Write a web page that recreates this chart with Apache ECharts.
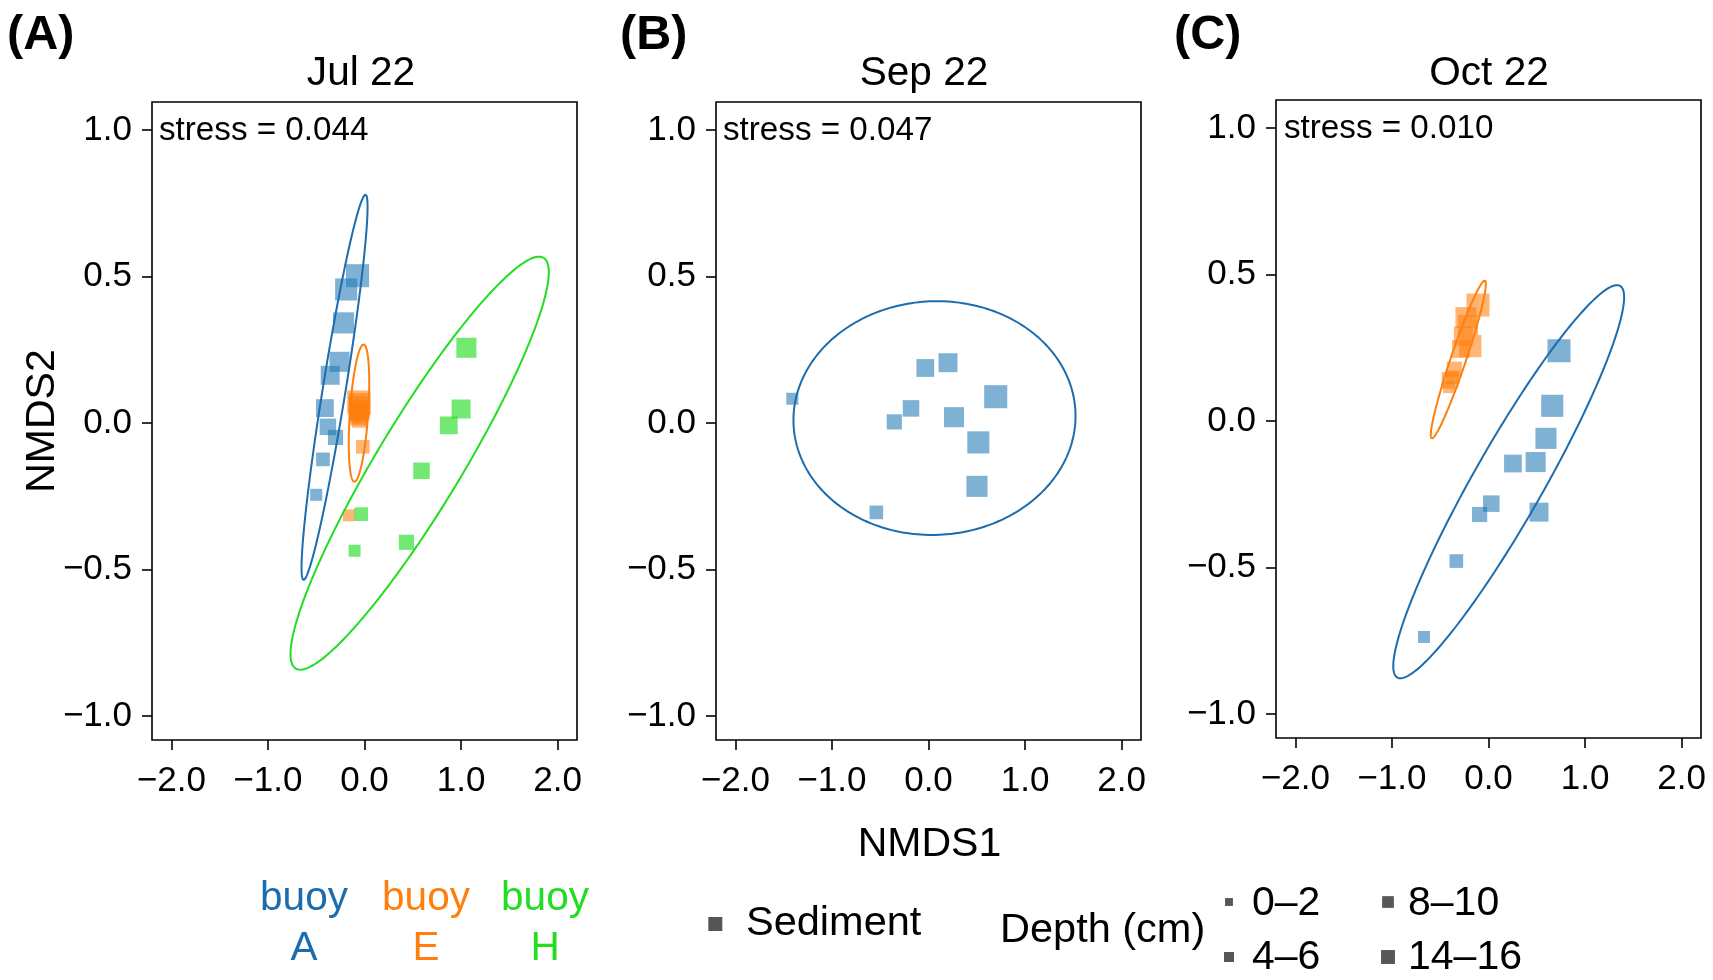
<!DOCTYPE html>
<html>
<head>
<meta charset="utf-8">
<script src="https://cdn.jsdelivr.net/npm/echarts@6/dist/echarts.min.js"></script>
<style>
html,body{margin:0;padding:0;background:#fff;}
#chart{width:1713px;height:980px;}
</style>
</head>
<body>
<div id="chart"></div>
<script>
// ---------- data ----------
const panelTitles = ['Jul 22', 'Sep 22', 'Oct 22'];
const panelLetters = ['(A)', '(B)', '(C)'];
const stressValues = ['0.044', '0.047', '0.010'];
const xTicks = [-2, -1, 0, 1, 2];
const yTicks = [-1, -0.5, 0, 0.5, 1];
const buoyNames = ['A', 'E', 'H'];
const depthLabels = ['0–2', '2–4', '4–6', '6–8', '8–10', '10–12', '12–14', '14–16', '16–18', '18–20'];
const legendDepthIdx = [0, 2, 4, 7];

// points: [NMDS1, NMDS2, depth layer index]
const julBuoyA = [[-0.50,-0.245,0],[-0.43,-0.124,1],[-0.30,-0.049,2],[-0.379,-0.013,3],[-0.41,0.051,4],[-0.355,0.163,5],[-0.259,0.209,6],[-0.217,0.342,7],[-0.19,0.456,8],[-0.072,0.503,9]];
const julBuoyE = [[-0.161,-0.315,0],[-0.017,-0.081,1],[-0.05,0.01,2],[-0.06,0.02,3],[-0.055,0.03,4],[-0.06,0.04,5],[-0.05,0.045,6],[-0.055,0.055,7],[-0.05,0.065,8],[-0.06,0.072,9]];
const julBuoyH = [[-0.103,-0.436,0],[-0.034,-0.311,1],[0.434,-0.407,2],[0.59,-0.163,3],[0.873,-0.008,4],[1.0,0.048,5],[1.055,0.257,6]];
const sepBuoyA = [[-1.41,0.083,0],[-0.54,-0.305,1],[-0.354,0.004,2],[-0.181,0.05,3],[-0.033,0.188,4],[0.202,0.206,5],[0.264,0.020,6],[0.502,-0.216,7],[0.516,-0.066,8],[0.696,0.090,9]];
const octBuoyA = [[-0.668,-0.737,0],[-0.333,-0.478,1],[-0.092,-0.319,2],[0.029,-0.282,3],[0.253,-0.145,4],[0.523,-0.311,5],[0.488,-0.140,6],[0.595,-0.059,7],[0.660,0.052,8],[0.73,0.240,9]];
const octBuoyE = [[-0.409,0.116,0],[-0.37,0.15,1],[-0.354,0.177,2],[-0.399,0.139,3],[-0.285,0.246,4],[-0.26,0.29,5],[-0.212,0.328,6],[-0.233,0.353,7],[-0.188,0.256,8],[-0.109,0.396,9]];

// ellipses: [centre x, centre y, half-axis dx, half-axis dy, horizontal half-chord]
const julEllA = [-0.31, 0.122, 0.32, 0.657, 0.12];
const julEllE = [-0.057, 0.034, 0.047, 0.234, 0.095];
const julEllH = [0.571, -0.137, 1.236, 0.705, 0.51];
const sepEllA = [0.062, 0.017, 0.026, 0.399, 1.46];
const octEllA = [0.209, -0.207, 1.121, 0.671, 0.414];
const octEllE = [-0.3125, 0.21, 0.2725, 0.269, 0.083];

// ---------- styles ----------
const FF = '"Liberation Sans", Arial, sans-serif';
const LINE = {A: '#1c6cae', E: '#ff7f0e', H: '#22dd22'};
const FILL = {A: 'rgba(31,119,180,0.72)', E: 'rgba(255,127,14,0.72)', H: 'rgba(34,221,34,0.8)'};
const sizeOf = d => Math.sqrt(144 + 43 * d);

const grids = [
  {left: 152, top: 102, width: 425, height: 638},
  {left: 716, top: 102, width: 425, height: 638},
  {left: 1276, top: 100, width: 425, height: 638}
];
const fmt = v => (v < 0 ? '\u2212' : '') + Math.abs(v).toFixed(1);

const xAxes = grids.map((g, i) => ({
  type: 'value', gridIndex: i, min: -2.2, max: 2.2, position: 'bottom',
  axisLine: {show: false, onZero: false}, splitLine: {show: false},
  axisTick: {show: true, inside: false, length: 10, customValues: xTicks, lineStyle: {color: '#000', width: 1.6}},
  axisLabel: {customValues: xTicks, margin: 23.5, color: '#000', fontSize: 35, fontFamily: FF, formatter: fmt}
}));
const yAxes = grids.map((g, i) => ({
  type: 'value', gridIndex: i, min: -1.082, max: 1.096, position: 'left',
  axisLine: {show: false, onZero: false}, splitLine: {show: false},
  axisTick: {show: true, inside: false, length: 10, customValues: yTicks, lineStyle: {color: '#000', width: 1.6}},
  axisLabel: {customValues: yTicks, margin: 20, color: '#000', fontSize: 35, fontFamily: FF, formatter: fmt}
}));

function scatter(idx, pts, buoy) {
  return {
    type: 'scatter', xAxisIndex: idx, yAxisIndex: idx, symbol: 'rect', silent: true, z: 2,
    symbolSize: v => sizeOf(v[2]),
    itemStyle: {color: FILL[buoy], borderWidth: 0},
    data: pts
  };
}
function ellipse(idx, ell, buoy) {
  return {
    type: 'custom', xAxisIndex: idx, yAxisIndex: idx, silent: true, z: 3,
    encode: {x: 0, y: 1},
    data: [ell],
    renderItem: function (params, api) {
      const cx = api.value(0), cy = api.value(1), ax = api.value(2), ay = api.value(3), bx = api.value(4);
      const pts = [];
      const N = 240;
      for (let k = 0; k < N; k++) {
        const t = 2 * Math.PI * k / N;
        pts.push(api.coord([cx + ax * Math.cos(t) + bx * Math.sin(t), cy + ay * Math.cos(t)]));
      }
      return {type: 'polygon', shape: {points: pts}, style: {fill: 'none', stroke: LINE[buoy], lineWidth: 2}};
    }
  };
}

const series = [
  scatter(0, julBuoyA, 'A'), scatter(0, julBuoyE, 'E'), scatter(0, julBuoyH, 'H'),
  ellipse(0, julEllA, 'A'), ellipse(0, julEllE, 'E'), ellipse(0, julEllH, 'H'),
  scatter(1, sepBuoyA, 'A'), ellipse(1, sepEllA, 'A'),
  scatter(2, octBuoyA, 'A'), scatter(2, octBuoyE, 'E'),
  ellipse(2, octEllA, 'A'), ellipse(2, octEllE, 'E')
];

// ---------- texts ----------
function txt(x, y, text, size, o) {
  o = o || {};
  return {
    type: 'text', x: x, y: y, rotation: o.rot || 0, silent: true,
    style: {
      text: text, fill: o.color || '#000',
      font: (o.bold ? 'bold ' : '') + size + 'px ' + FF,
      align: o.align || 'left', verticalAlign: 'middle',
      textAlign: o.align || 'left', textVerticalAlign: 'middle'
    }
  };
}
const letterX = [7, 620, 1174];
const titleX = [361, 924, 1489];
const stressX = [159, 723, 1284];
const stressY = [130.5, 130.5, 129];
const graphics = [];
for (let i = 0; i < 3; i++) {
  graphics.push(txt(letterX[i], 36, panelLetters[i], 48.5, {bold: true}));
  graphics.push(txt(titleX[i], 74, panelTitles[i], 40.6, {align: 'center'}));
  graphics.push(txt(stressX[i], stressY[i], 'stress = ' + stressValues[i], 33.2));
}
graphics.push(txt(42.5, 421, 'NMDS2', 41, {align: 'center', rot: Math.PI / 2}));
graphics.push(txt(929.5, 845, 'NMDS1', 41, {align: 'center'}));

const buoyX = [304, 426, 545];
buoyNames.forEach((b, i) => {
  graphics.push(txt(buoyX[i], 899, 'buoy', 40.5, {align: 'center', color: LINE[b]}));
  graphics.push(txt(buoyX[i], 949, b, 40.5, {align: 'center', color: LINE[b]}));
});
graphics.push({type: 'rect', silent: true, shape: {x: 715.3 - 7, y: 924 - 7, width: 14, height: 14}, style: {fill: '#555'}});
graphics.push(txt(746, 923.5, 'Sediment', 41.5));
graphics.push(txt(1000, 931, 'Depth (cm)', 41.5));
const legCol = [1229, 1388], legTextX = [1252, 1408], legRow = [902, 957], legTextY = [903.5, 957.5];
legendDepthIdx.forEach((d, k) => {
  const col = k < 2 ? 0 : 1, row = k % 2;
  const s = sizeOf(d) * 0.66;
  graphics.push({type: 'rect', silent: true, shape: {x: legCol[col] - s / 2, y: legRow[row] - s / 2, width: s, height: s}, style: {fill: '#575757'}});
  graphics.push(txt(legTextX[col], legTextY[row], depthLabels[d], 41));
});

const chart = echarts.init(document.getElementById('chart'), null, {renderer: 'canvas'});
chart.setOption({
  animation: false,
  backgroundColor: '#fff',
  grid: grids.map(g => Object.assign({show: true, borderColor: '#000', borderWidth: 1.6, backgroundColor: 'transparent', containLabel: false}, g)),
  xAxis: xAxes,
  yAxis: yAxes,
  series: series,
  graphic: {elements: graphics}
});
</script>
</body>
</html>
